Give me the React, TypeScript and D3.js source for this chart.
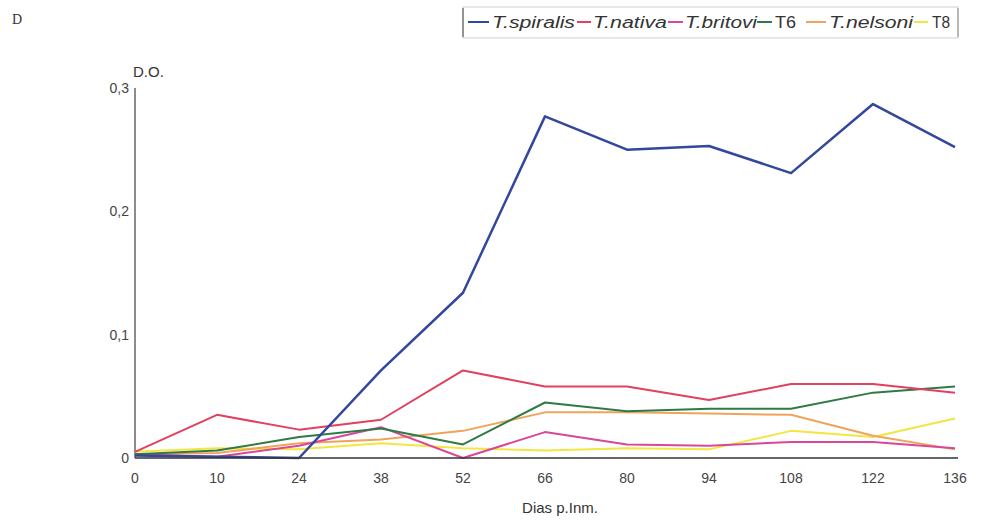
import React from "react";
import * as d3 from "d3";

const days = ["0", "10", "24", "38", "52", "66", "80", "94", "108", "122", "136"];
const yTicks = [0, 0.1, 0.2, 0.3];

const spiralis = [0.002, 0.001, 0.0, 0.071, 0.134, 0.277, 0.25, 0.253, 0.231, 0.287, 0.252];
const nativa = [0.005, 0.035, 0.023, 0.031, 0.071, 0.058, 0.058, 0.047, 0.06, 0.06, 0.053];
const britovi = [0.003, 0.001, 0.01, 0.025, 0.0, 0.021, 0.011, 0.01, 0.013, 0.013, 0.008];
const t6 = [0.003, 0.006, 0.017, 0.024, 0.011, 0.045, 0.038, 0.04, 0.04, 0.053, 0.058];
const nelsoni = [0.003, 0.004, 0.012, 0.015, 0.022, 0.037, 0.037, 0.036, 0.035, 0.018, 0.007];
const t8 = [0.005, 0.008, 0.007, 0.012, 0.008, 0.006, 0.008, 0.007, 0.022, 0.017, 0.032];

const seriesNames = ["T.spiralis", "T.nativa", "T.britovi", "T6", "T.nelsoni", "T8"];
const seriesValues = [spiralis, nativa, britovi, t6, nelsoni, t8];
const seriesColors = ["#33479c", "#e2405f", "#d8479a", "#2f7a45", "#f0a35a", "#f2e640"];
const seriesItalic = [true, true, true, false, true, false];

// legend layout: line start, line end, text start, text width
const legendLayout = [
  [468, 489, 492, 83],
  [577, 591, 593, 74],
  [668, 683, 685, 72],
  [757, 772, 775, 21],
  [806, 826, 829, 84],
  [914, 928, 932, 18],
];

export default function App() {
  const W = 981;
  const H = 529;
  const x0 = 135;
  const x1 = 955;
  const yBase = 458;
  const yTop = 88;

  const x = d3.scalePoint<string>().domain(days).range([x0, x1]);
  const y = d3.scaleLinear().domain([0, 0.3]).range([yBase, yTop]);
  const line = d3
    .line<number>()
    .x((_, i) => x(days[i]) as number)
    .y((d) => y(d));

  const font = "'Liberation Sans', Arial, sans-serif";
  const order = [5, 4, 2, 3, 1, 0];

  return (
    <svg width={W} height={H} style={{ position: "absolute", left: 0, top: 0, background: "#fff" }}>
      <text x={12} y={24} fontFamily="'Liberation Serif', serif" fontSize={14} fill="#333">D</text>

      {/* legend */}
      <rect x={463} y={7} width={495} height={31} fill="none" stroke="#cfcfcf" strokeWidth={1} />
      <line x1={463} x2={463} y1={8} y2={37} stroke="#777" strokeWidth={1.5} />
      <line x1={958} x2={958} y1={8} y2={37} stroke="#888" strokeWidth={1} />
      {seriesNames.map((n, i) => (
        <g key={n}>
          <line
            x1={legendLayout[i][0]}
            x2={legendLayout[i][1]}
            y1={22}
            y2={22}
            stroke={seriesColors[i]}
            strokeWidth={2}
          />
          <text
            x={legendLayout[i][2]}
            y={28}
            fontFamily={font}
            fontSize={16}
            fontStyle={seriesItalic[i] ? "italic" : "normal"}
            textLength={legendLayout[i][3]}
            lengthAdjust="spacingAndGlyphs"
            fill="#333"
          >
            {n}
          </text>
        </g>
      ))}

      {/* axes */}
      <text x={133} y={77} fontFamily={font} fontSize={15} fill="#333">D.O.</text>
      <line x1={x0} x2={x0} y1={yTop} y2={yBase} stroke="#666" strokeWidth={1.5} />
      {yTicks.map((t) => (
        <text
          key={t}
          x={x0 - 6}
          y={y(t) + 5}
          textAnchor="end"
          fontFamily={font}
          fontSize={14}
          fill="#444"
        >
          {t === 0 ? "0" : String(t).replace(".", ",")}
        </text>
      ))}
      {days.map((d) => (
        <text
          key={d}
          x={x(d) as number}
          y={483}
          textAnchor="middle"
          fontFamily={font}
          fontSize={14}
          fill="#444"
        >
          {d}
        </text>
      ))}
      <text x={560} y={513} textAnchor="middle" fontFamily={font} fontSize={15} fill="#333">
        Dias p.Inm.
      </text>

      {/* series */}
      {order.map((i) => (
        <path
          key={seriesNames[i]}
          d={line(seriesValues[i]) || ""}
          fill="none"
          stroke={seriesColors[i]}
          strokeWidth={i === 0 ? 2.5 : 2}
          strokeLinejoin="round"
        />
      ))}
      <line x1={x0} x2={x1 + 3} y1={yBase} y2={yBase} stroke="#333" strokeWidth={1.5} />
    </svg>
  );
}
